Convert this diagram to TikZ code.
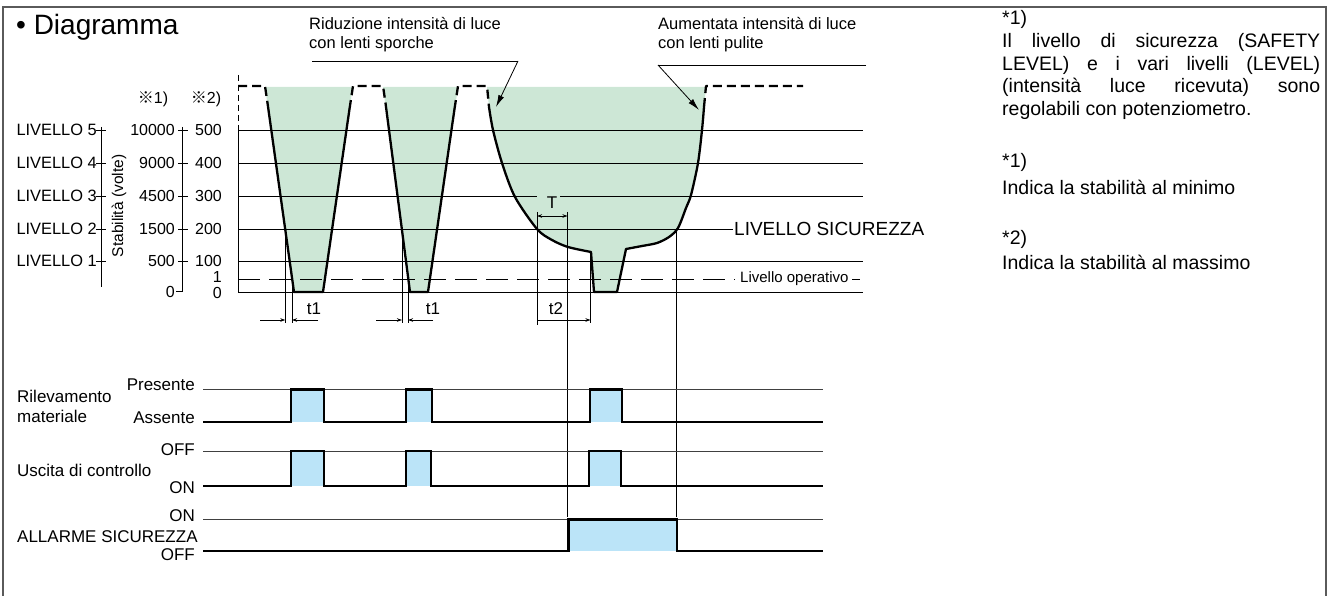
\documentclass[tikz,border=0pt]{standalone}
\usepackage{fontspec}
\setmainfont{Liberation Sans}
\newfontfamily\cjk{Noto Sans CJK JP}
\usetikzlibrary{arrows.meta}
\definecolor{lgreen}{RGB}{205,231,214}
\definecolor{lblue}{RGB}{187,228,248}
\definecolor{framegray}{RGB}{90,90,90}
\newcommand{\fs}[1]{\fontsize{#1}{#1}\selectfont}
\tikzset{
  gridline/.style={line width=0.9pt, black},
  curveline/.style={line width=2.3pt, line join=round, black},
  dcurve/.style={curveline, dash pattern=on 9pt off 5pt},
  sigthick/.style={line width=2.3pt, line join=miter, black},
  sigthin/.style={line width=0.9pt, black!75},
  dimline/.style={line width=0.8pt, black},
  dimarrow/.style={line width=0.8pt, -{Stealth[length=5pt,width=3.5pt]}},
  leader/.style={line width=0.8pt, -{Latex[length=12pt,width=6pt]}},
  lbl/.style={inner sep=0pt, font=\fs{17}},
  axlbl/.style={inner sep=0pt, font=\fs{16}},
  notetxt/.style={inner sep=0pt, anchor=west, font=\fs{19.5}},
}
\begin{document}
\begin{tikzpicture}[x=1pt,y=-1pt]
\useasboundingbox (0,0) rectangle (1330,596);
% frame
\draw[framegray, line width=1.2pt] (3,600) -- (3,7) -- (1326,7) -- (1326,600);

% title
\node[inner sep=0pt, anchor=west, font=\fs{28}] (title) at (16,27) {\textbullet\ Diagramma};

% green areas
\fill[lgreen] (265,87) -- (294,292) -- (323,292) -- (352.7,87) -- cycle;
\fill[lgreen] (383,87) -- (410,292) -- (428,292) -- (458,87) -- cycle;
\fill[lgreen] (487,87) -- plot[smooth,tension=0.5] coordinates {(489,107) (493,130) (502,163) (515,197) (537,229) (552,240) (568,247) (591,252)}
  -- (594,292) -- (617,292)
  -- plot[smooth,tension=0.5] coordinates {(626,249) (642,246) (657,243) (669,237) (678,228) (686,208) (691,195) (698,163) (702,130) (704,107)}
  -- (706,87) -- cycle;

% grid lines
\draw[gridline] (238,130) -- (863,130);
\draw[gridline] (238,163) -- (863,163);
\draw[gridline] (238,196) -- (537,196);
\draw[gridline] (560,196) -- (863,196);
\draw[gridline] (238,229) -- (733,229);
\draw[gridline] (238,261) -- (863,261);
\draw[gridline] (238,292) -- (863,292);
\draw[gridline] (238,130) -- (238,292);
\draw[gridline, dash pattern=on 6pt off 4pt] (238,75) -- (238,130);
\draw[gridline, dash pattern=on 22pt off 9pt] (238,279) -- (735,279);
\draw[gridline] (852,279) -- (860,279);
\node[inner sep=0pt, anchor=west, font=\fs{15}] (oplevel) at (740,279) {Livello operativo};
\node[inner sep=0pt, anchor=west, font=\fs{19}] (safety) at (734,229) {LIVELLO SICUREZZA};

% curve
\draw[dcurve] (238,86) -- (265,86) -- (267.5,103);
\draw[curveline] (267.5,103) -- (294,292) -- (323,292) -- (349.5,109);
\draw[dcurve] (349.5,109) -- (353,86) -- (383,86) -- (385.5,103);
\draw[curveline] (385.5,103) -- (410,292) -- (428,292) -- (454.5,109);
\draw[dcurve] (454.5,109) -- (458,86) -- (487,86) -- (489,107);
\draw[curveline] plot[smooth,tension=0.5] coordinates {(489,107) (493,130) (502,163) (515,197) (537,229) (552,240) (568,247) (591,252)}
  -- (594,292) -- (617,292)
  -- plot[smooth,tension=0.5] coordinates {(626,249) (642,246) (657,243) (669,237) (678,228) (686,208) (691,195) (698,163) (702,130) (704,107)};
\draw[dcurve] (704,107) -- (706,86) -- (803,86);

% annotations
\node[inner sep=0pt, anchor=north west, align=left, font=\fs{16.5}] (dirty) at (309,17) {Riduzione intensità di luce\\[3pt]con lenti sporche};
\coordinate (dA) at (312,61);
\coordinate (dB) at (518,61);
\coordinate (dC) at (496,107);
\draw[line width=0.8pt] (dA) -- (dB);
\draw[leader] (dB) -- (dC);
\node[inner sep=0pt, anchor=north west, align=left, font=\fs{16.5}] (clean) at (658,17) {Aumentata intensità di luce\\[3pt]con lenti pulite};
\coordinate (cA) at (866,65);
\coordinate (cB) at (658,65);
\coordinate (cC) at (699,110);
\draw[line width=0.8pt] (cA) -- (cB);
\draw[leader] (cB) -- (cC);

% axes
\node[axlbl] (m1) at (153,99) {{\cjk ※}1)};
\node[axlbl] (m2) at (206,99) {{\cjk ※}2)};
\draw[dimline] (101,127) -- (101,287);
\foreach \yy/\k in {130/5,163/4,196/3,229/2,261/1}{
  \draw[dimline] (96,\yy) -- (106,\yy);
  \node[inner sep=0pt, font=\fs{16.4}, anchor=east] (L\k) at (97,\yy) {LIVELLO \k};
}
\node[inner sep=0pt, rotate=90, font=\fs{15.5}] (stab) at (119,206) {Stabilità (volte)};
\draw[dimline] (182.7,127) -- (182.7,291) -- (176,291);
\foreach \yy/\a/\b in {130/10000/500,163/9000/400,196/4500/300,229/1500/200,261/500/100}{
  \draw[dimline] (178,\yy) -- (188,\yy);
  \node[axlbl, anchor=east] (A\a) at (175,\yy) {\a};
  \node[axlbl, anchor=east] (B\b) at (222,\yy) {\b};
}
\node[axlbl, anchor=east] (A0) at (175,292) {0};
\node[axlbl, anchor=east] (B1) at (222,277) {1};
\node[axlbl, anchor=east] (B0) at (222,293) {0};

% dimension verticals
\draw[dimline] (285.3,229) -- (285.3,323);
\draw[dimline] (292,279) -- (292,323);
\draw[dimline] (402,229) -- (402,323);
\draw[dimline] (408,279) -- (408,323);
\draw[dimline] (537,212) -- (537,325);
\draw[dimline] (590.5,251) -- (590.5,323);
\draw[dimline] (567.5,212) -- (567.5,517);
\draw[dimline] (676,230) -- (676,517);

% dimension arrows
\coordinate (a1) at (260,320); \coordinate (a2) at (285.3,320);
\coordinate (a3) at (318,320); \coordinate (a4) at (292,320);
\draw[dimarrow] (a1) -- (a2);
\draw[dimarrow] (a3) -- (a4);
\node[lbl] (t1a) at (314,309) {t1};
\coordinate (b1) at (376,320); \coordinate (b2) at (402,320);
\coordinate (b3) at (433,320); \coordinate (b4) at (408,320);
\draw[dimarrow] (b1) -- (b2);
\draw[dimarrow] (b3) -- (b4);
\node[lbl] (t1b) at (433,309) {t1};
\coordinate (c1) at (537,320); \coordinate (c2) at (590.5,320);
\draw[dimarrow] (c1) -- (c2);
\node[lbl] (t2) at (556,309) {t2};
\coordinate (T1) at (537,216); \coordinate (T2) at (567.5,216);
\draw[dimline, {Stealth[length=5pt,width=3.5pt]}-{Stealth[length=5pt,width=3.5pt]}] (T1) -- (T2);
\node[lbl] (Tl) at (552,203) {T};

% timing diagram: Rilevamento
\fill[lblue] (291,389.5) rectangle (324,421.7);
\fill[lblue] (406,389.5) rectangle (432,421.7);
\fill[lblue] (590,389.5) rectangle (622,421.7);
\draw[sigthin] (203,389.5) -- (823,389.5);
\draw[sigthick] (203,421.7) -- (291,421.7) -- (291,389.5) -- (324,389.5) -- (324,421.7) -- (406,421.7) -- (406,389.5) -- (432,389.5) -- (432,421.7) -- (590,421.7) -- (590,389.5) -- (622,389.5) -- (622,421.7) -- (823,421.7);
% Uscita
\fill[lblue] (291,451) rectangle (324,486);
\fill[lblue] (406,451) rectangle (431,486);
\fill[lblue] (589,451) rectangle (621,486);
\draw[sigthin] (203,451) -- (823,451);
\draw[sigthick] (203,486) -- (291,486) -- (291,451) -- (324,451) -- (324,486) -- (406,486) -- (406,451) -- (431,451) -- (431,486) -- (589,486) -- (589,451) -- (621,451) -- (621,486) -- (823,486);
% Allarme
\fill[lblue] (568.5,519.5) rectangle (677,551);
\draw[sigthin] (203,519.5) -- (823,519.5);
\draw[sigthick] (203,551) -- (568.5,551) -- (568.5,519.5) -- (677,519.5) -- (677,551) -- (823,551);

% timing labels
\node[lbl, anchor=west, align=left] (ril) at (17,406) {Rilevamento\\[3pt]materiale};
\node[lbl, anchor=east] (pres) at (195,385) {Presente};
\node[lbl, anchor=east] (ass) at (195,418) {Assente};
\node[lbl, anchor=east] (off1) at (195,450) {OFF};
\node[lbl, anchor=west] (usc) at (17,470) {Uscita di controllo};
\node[lbl, anchor=east] (on1) at (195,488) {ON};
\node[lbl, anchor=east] (on2) at (195,516) {ON};
\node[lbl, anchor=west] (all) at (17,537) {ALLARME SICUREZZA};
\node[lbl, anchor=east] (off2) at (195,555) {OFF};

% notes
\node[notetxt] (n1) at (1002,19) {*1)};
\node[notetxt] (n2) at (1002,42) {\makebox[318pt][s]{Il livello di sicurezza (SAFETY}};
\node[notetxt] (n3) at (1002,65) {\makebox[318pt][s]{LEVEL) e i vari livelli (LEVEL)}};
\node[notetxt] (n4) at (1002,87) {\makebox[318pt][s]{(intensità luce ricevuta) sono}};
\node[notetxt] (n5) at (1002,110) {regolabili con potenziometro.};
\node[notetxt] (n6) at (1002,162) {*1)};
\node[notetxt] (n7) at (1002,187) {Indica la stabilità al minimo};
\node[notetxt] (n8) at (1002,239) {*2)};
\node[notetxt] (n9) at (1002,262) {Indica la stabilità al massimo};
\end{tikzpicture}
\end{document}
